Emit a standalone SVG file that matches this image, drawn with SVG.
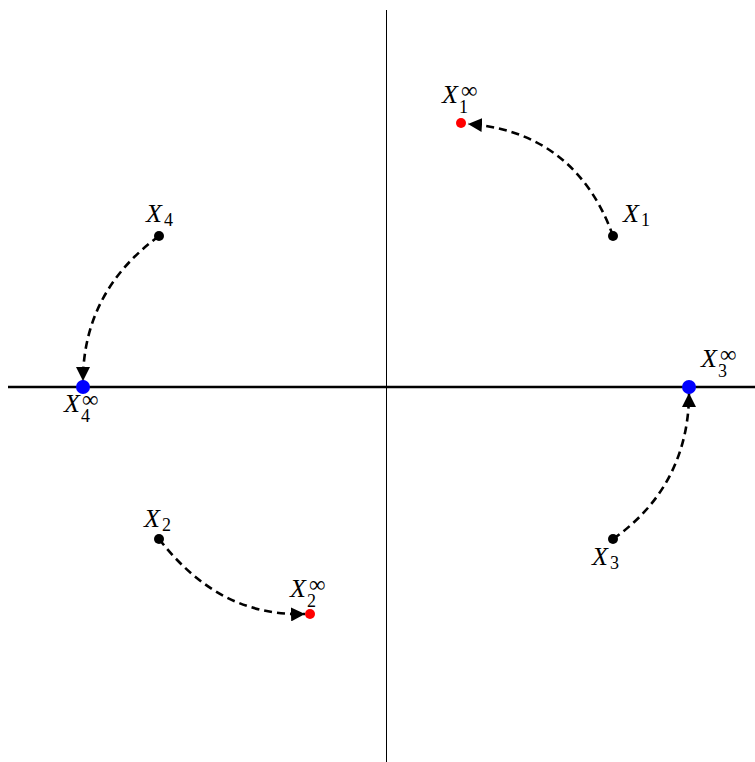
<svg xmlns="http://www.w3.org/2000/svg" width="755" height="762" viewBox="0 0 755 762">
<defs>
<marker id="ah" markerUnits="userSpaceOnUse" markerWidth="16" markerHeight="14" refX="14" refY="7" orient="auto">
<path d="M0,0 L14,7 L0,14 Z" fill="#000"/>
</marker>
</defs>
<rect width="755" height="762" fill="#fff"/>
<g id="axes">
<line x1="386.5" y1="10" x2="386.5" y2="762" stroke="#000" stroke-width="1"/>
<line x1="8" y1="387" x2="755" y2="387" stroke="#000" stroke-width="2.5"/>
</g>
<g id="connectors" fill="none" stroke="#000" stroke-width="2.6" stroke-dasharray="8 5">
<path d="M613,236 C595,185 555,130 468,124" marker-end="url(#ah)"/>
<path d="M159,236 C110,272 83,320 83,381" marker-end="url(#ah)"/>
<path d="M613,539 C662,505 689,455 689,393" marker-end="url(#ah)"/>
<path d="M159,539 C195,585 240,616 305,614" marker-end="url(#ah)"/>
</g>
<g font-family="Liberation Serif, DejaVu Serif, serif" fill="#000">
<g id="X1"><circle cx="613" cy="236" r="5"/><text font-size="26" font-style="italic" x="623" y="222">X</text><text font-size="18" x="641" y="226">1</text></g>
<g id="X1inf"><circle cx="461" cy="123" r="5" fill="#f00"/><text font-size="26" font-style="italic" x="442" y="103">X</text><text font-size="23" x="461" y="98">∞</text><text font-size="18" x="459" y="113">1</text></g>
<g id="X4"><circle cx="159" cy="236" r="5"/><text font-size="26" font-style="italic" x="146" y="222">X</text><text font-size="18" x="164" y="226">4</text></g>
<g id="X4inf"><circle cx="83" cy="387" r="7" fill="#00f"/><text font-size="26" font-style="italic" x="64" y="412">X</text><text font-size="23" x="82" y="407">∞</text><text font-size="18" x="81" y="422">4</text></g>
<g id="X3"><circle cx="613" cy="539" r="5"/><text font-size="26" font-style="italic" x="592" y="565">X</text><text font-size="18" x="610" y="569">3</text></g>
<g id="X3inf"><circle cx="689" cy="387" r="7" fill="#00f"/><text font-size="26" font-style="italic" x="701" y="367">X</text><text font-size="23" x="720" y="362">∞</text><text font-size="18" x="718" y="377">3</text></g>
<g id="X2"><circle cx="159" cy="539" r="5"/><text font-size="26" font-style="italic" x="144" y="527">X</text><text font-size="18" x="162" y="531">2</text></g>
<g id="X2inf"><circle cx="310" cy="614" r="5" fill="#f00"/><text font-size="26" font-style="italic" x="290" y="597">X</text><text font-size="23" x="309" y="592">∞</text><text font-size="18" x="307" y="607">2</text></g>
</g>
</svg>
